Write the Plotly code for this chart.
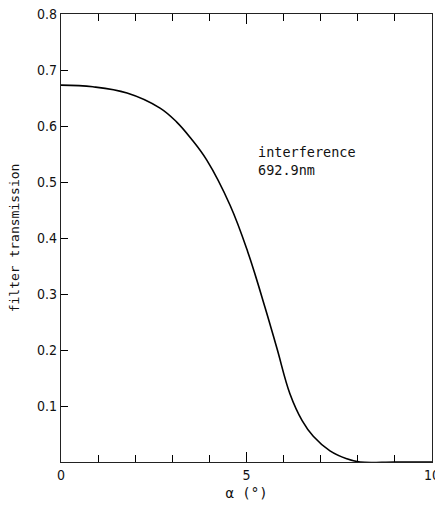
import plotly.graph_objects as go

alpha = [0, 0.86, 1.78, 2.67, 3.12, 3.5, 3.93, 4.56, 5.03, 5.5, 5.82, 6.17, 6.5, 6.8, 7.25, 7.7, 8.06, 9, 10]
trans = [0.673, 0.670, 0.659, 0.632, 0.607, 0.578, 0.539, 0.458, 0.376, 0.276, 0.203, 0.122, 0.074, 0.046, 0.020, 0.006, 0.0, 0.0, 0.0]

x_tickvals = [0, 5, 10]
x_ticktext = ["0", "5", "10"]
y_tickvals = [0.1, 0.2, 0.3, 0.4, 0.5, 0.6, 0.7, 0.8]
y_ticktext = ["0.1", "0.2", "0.3", "0.4", "0.5", "0.6", "0.7", "0.8"]

font = "DejaVu Sans Condensed, DejaVu Sans"
mono = "DejaVu Sans Mono, Liberation Mono"

fig = go.Figure()
fig.add_trace(go.Scatter(x=alpha, y=trans, mode="lines",
                         line=dict(color="black", width=1.6, shape="spline", smoothing=1.1),
                         showlegend=False, hoverinfo="skip"))

fig.add_annotation(x=5.26, y=0.537, xref="x", yref="y", text="interference<br>692.9nm",
                   showarrow=False, xanchor="left", yanchor="middle", align="left",
                   font=dict(family=mono, size=13.5, color="#111"))

fig.update_layout(
    width=435, height=513,
    margin=dict(l=61, r=3, t=14, b=51),
    paper_bgcolor="white", plot_bgcolor="white",
    font=dict(family=font, size=13, color="#111"),
    xaxis=dict(range=[0, 10], tickvals=x_tickvals, ticktext=x_ticktext,
               ticks="inside", ticklen=10, tickwidth=1.2, tickcolor="black",
               minor=dict(dtick=1, ticks="inside", ticklen=7, tickwidth=1.2, tickcolor="black"),
               showline=True, linecolor="#222", linewidth=1.2, mirror="ticks",
               showgrid=False, zeroline=False, ticklabeloverflow="allow", automargin=False,
               title=dict(text="α (°)", standoff=6, font=dict(family=mono, size=14)),
               tickfont=dict(family=font, size=14)),
    yaxis=dict(range=[0, 0.8], tickvals=y_tickvals, ticktext=y_ticktext,
               ticks="inside", ticklen=7, tickwidth=1.2, tickcolor="black",
               showline=True, linecolor="#222", linewidth=1.2, mirror=True,
               showgrid=False, zeroline=False, automargin=False,
               title=dict(text="filter transmission", standoff=14, font=dict(family=mono, size=13)),
               tickfont=dict(family=font, size=14)),
)

fig.write_html("out.html")
